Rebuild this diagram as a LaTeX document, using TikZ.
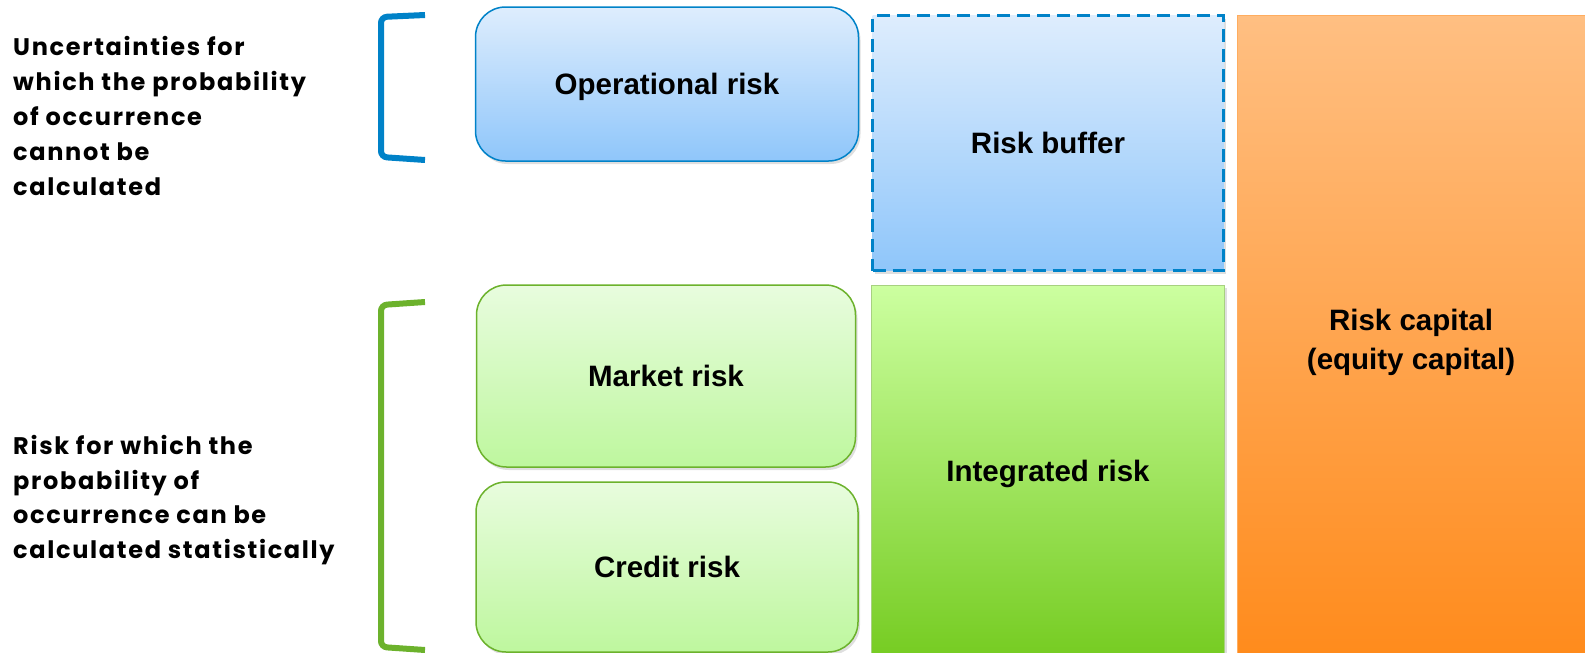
\documentclass[tikz,border=0pt]{standalone}
\usepackage{fontspec}
\setmainfont{Liberation Sans}
\newfontfamily\sidefont[LetterSpace=7]{Poppins}
\usepackage{tikz}
\usetikzlibrary{shadows}

\definecolor{opblue}{RGB}{0,130,200}
\definecolor{bluetop}{RGB}{222,237,253}
\definecolor{bluebot}{RGB}{143,198,250}
\definecolor{riskgreen}{RGB}{108,178,44}
\definecolor{greentop}{RGB}{232,252,222}
\definecolor{greenbot}{RGB}{190,247,158}
\definecolor{inttop}{RGB}{204,255,160}
\definecolor{intbot}{RGB}{118,204,34}
\definecolor{captop}{RGB}{255,191,130}
\definecolor{capbot}{RGB}{255,138,26}

\begin{document}
\begin{tikzpicture}[x=1pt, y=-1pt,
    boxtext/.style={font=\fontsize{29.5}{39}\selectfont\bfseries, align=center, inner sep=0pt},
    sidetext/.style={font=\sidefont\fontsize{24}{34.8}\selectfont\bfseries, align=left, anchor=west, inner sep=0pt},
    softshadow/.style={drop shadow={opacity=.25, shadow xshift=2pt, shadow yshift=-3pt}},
    bluebox/.style={boxtext, draw=opblue, line width=1.5pt, top color=bluetop, bottom color=bluebot, rounded corners=30pt, softshadow},
    greenbox/.style={boxtext, draw=riskgreen, line width=1.5pt, top color=greentop, bottom color=greenbot, rounded corners=30pt, softshadow},
    bracketline/.style={line width=6pt, rounded corners=6pt}]
    \useasboundingbox (0,0) rectangle (1585,653);

    \node[sidetext] (uncertain) at (13,116) {Uncertainties for\\which the probability\\of occurrence\\cannot be\\calculated};
    \node[sidetext] (calcrisk) at (13,500) {Risk for which the\\probability of\\occurrence can be\\calculated statistically};

    \draw[bracketline, opblue] (425,15) -- (381,17) -- (381,157) -- (425,160);
    \draw[bracketline, riskgreen] (425,302) -- (381,305) -- (381,647) -- (425,650);

    \node[bluebox, text depth=0pt, minimum width=383pt, minimum height=154pt] (oprisk) at (667,84) {Operational risk};
    \node[greenbox, minimum width=379pt, minimum height=182pt] (market) at (666,376) {Market risk};
    \node[greenbox, minimum width=382pt, minimum height=170pt] (credit) at (667,567) {Credit risk};

    \node[boxtext, draw=opblue, line width=3pt, dash pattern=on 13pt off 7pt, top color=bluetop, bottom color=bluebot, softshadow,
        minimum width=351pt, minimum height=255pt] (buffer) at (1048,143) {Risk buffer};
    \node[boxtext, text depth=0pt, draw=riskgreen!60, line width=1pt, top color=inttop, bottom color=intbot, softshadow,
        minimum width=353pt, minimum height=372pt] (integrated) at (1048,471) {Integrated risk};
    \node[boxtext, draw=capbot!70, line width=1pt, top color=captop, bottom color=capbot, softshadow,
        minimum width=348pt, minimum height=654pt] (capital) at (1411,342) {Risk capital\\(equity capital)};
\end{tikzpicture}
\end{document}
